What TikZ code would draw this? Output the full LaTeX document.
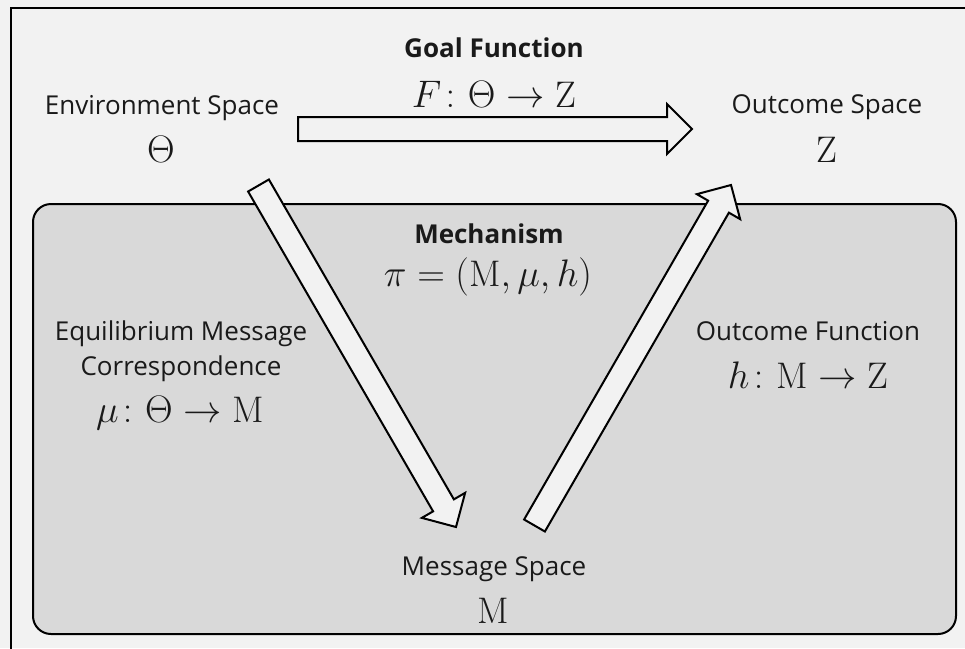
\documentclass[tikz,border=0pt]{standalone}
\usepackage{amsmath}
\usepackage{fontspec}
\setsansfont{Open Sans}
\usetikzlibrary{calc}
\definecolor{bg}{HTML}{F2F2F2}
\definecolor{boxgray}{HTML}{D9D9D9}
\definecolor{arrowfill}{HTML}{F2F2F2}
\definecolor{txt}{HTML}{1A1A1A}
\tikzset{
  lbl/.style={font=\sffamily\fontsize{26}{30}\selectfont, anchor=base, inner sep=0pt, text=txt},
  lblb/.style={lbl, font=\sffamily\bfseries\fontsize{26}{30}\selectfont},
  mth/.style={font=\fontsize{20}{24}\selectfont, scale=1.85, anchor=base, inner sep=0pt, text=txt},
  blockarrow/.style={draw=black, line width=2pt, fill=arrowfill, line join=miter},
}
\newcommand{\blockarr}[2]{%
  \coordinate (#1#2h) at ($(#2)!25pt!(#1)$);
  \draw[blockarrow] ($(#1)!12pt!90:(#2)$) -- ($(#1#2h)!12pt!-90:(#1)$) -- ($(#1#2h)!25pt!-90:(#1)$) -- (#2) -- ($(#1#2h)!25pt!90:(#1)$) -- ($(#1#2h)!12pt!90:(#1)$) -- ($(#1)!12pt!-90:(#2)$) -- cycle;
}
\begin{document}
\begin{tikzpicture}[x=1pt,y=-1pt]
  \useasboundingbox (0,0) rectangle (965,648);
  \clip (0,0) rectangle (965,648);
  \fill[bg] (0,0) rectangle (965,648);
  \draw[line width=2pt] (11,8) rectangle (990,670);
  \draw[line width=2pt, fill=boxgray, rounded corners=18pt] (33,204) rectangle (956,634);

  % coordinates for block arrows
  \coordinate (gA) at (298,129);
  \coordinate (gB) at (692,129);
  \coordinate (mA) at (258.5,185.5);
  \coordinate (mB) at (456,527);
  \coordinate (hA) at (534.5,525.5);
  \coordinate (hB) at (731,185);
  \blockarr{gA}{gB}
  \blockarr{mA}{mB}
  \blockarr{hA}{hB}

  % labels
  \node[lbl] (envlbl) at (162,114) {Environment Space};
  \node[mth] (envsym) at (161,162) {$\Theta$};
  \node[lblb] (goal) at (494,57) {Goal Function};
  \node[mth] (goalf) at (494,107) {$F\colon\Theta\to\mathrm{Z}$};
  \node[lbl] (outlbl) at (827,113) {Outcome Space};
  \node[mth] (outsym) at (827,162) {$\mathrm{Z}$};
  \node[lblb] (mech) at (489,243) {Mechanism};
  \node[mth] (mechf) at (488,286) {$\pi=(\mathrm{M},\mu,h)$};
  \node[lbl] (eq1) at (181,340) {Equilibrium Message};
  \node[lbl] (eq2) at (181,375) {Correspondence};
  \node[mth] (muf) at (180,422) {$\mu\colon\Theta\to\mathrm{M}$};
  \node[lbl] (of) at (808,340) {Outcome Function};
  \node[mth] (hf) at (808,388) {$h\colon\mathrm{M}\to\mathrm{Z}$};
  \node[lbl] (msg) at (494,575) {Message Space};
  \node[mth] (msgsym) at (493,623) {$\mathrm{M}$};
\end{tikzpicture}
\end{document}
